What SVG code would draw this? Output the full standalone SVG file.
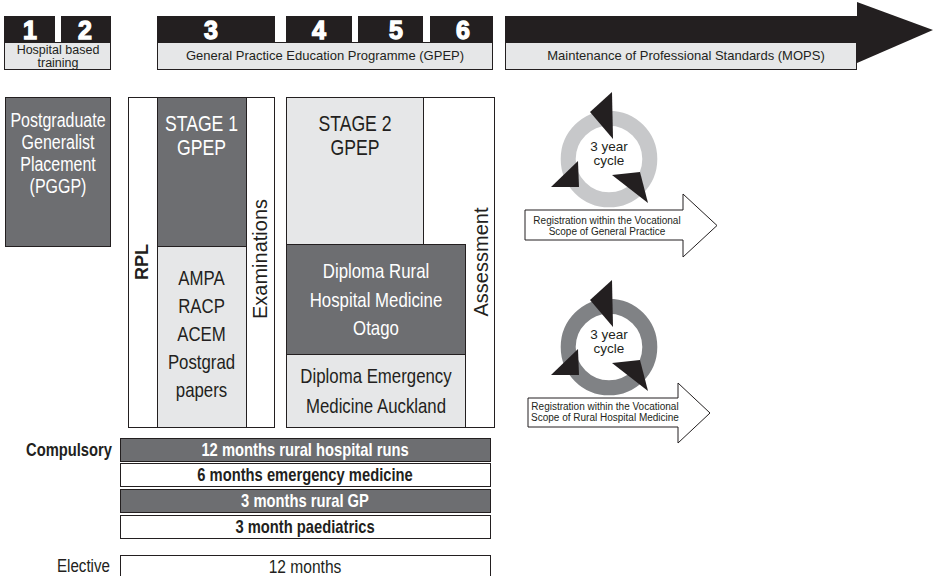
<svg xmlns="http://www.w3.org/2000/svg" width="937" height="576" viewBox="0 0 937 576">
<style>
.blk{fill:#231f20}
.lg{fill:#e6e7e8;stroke:#231f20;stroke-width:1}
.dk{fill:#6d6e71;stroke:#231f20;stroke-width:1}
.wh{fill:#fff;stroke:#231f20;stroke-width:1}
.num{font-family:'Liberation Sans',Arial,sans-serif;font-weight:bold;font-size:25px;fill:#fff;stroke:#fff;stroke-width:1.3;text-anchor:middle}
.hdr{font-family:'Liberation Sans',Arial,sans-serif;font-size:13px;fill:#231f20;text-anchor:middle}
.cn{font-family:'Liberation Sans',Arial,sans-serif;text-anchor:middle;font-size:20.5px}
.wt{fill:#fff}
.dt{fill:#231f20}
.rot{font-family:'Liberation Sans',Arial,sans-serif;font-size:20px;fill:#231f20;text-anchor:middle}
.row{font-size:18px;font-weight:bold}
.cyc{font-family:'Liberation Sans',Arial,sans-serif;font-size:13.5px;fill:#231f20;text-anchor:middle}
.reg{font-family:'Liberation Sans',Arial,sans-serif;font-size:10px;fill:#231f20;text-anchor:middle}
.tri{fill:#231f20}
.oarr{fill:#fff;stroke:#231f20;stroke-width:1}
</style>

<g id="hospital-training">
  <rect class="blk" x="4" y="16" width="51" height="27"/>
  <rect class="blk" x="61" y="16" width="50" height="27"/>
  <rect class="lg" x="4.5" y="42.5" width="106" height="27"/>
  <text class="num" x="30" y="39">1</text>
  <text class="num" x="85" y="39">2</text>
  <text class="hdr" style="font-size:12.5px" x="58" y="54">Hospital based</text>
  <text class="hdr" style="font-size:12.5px" x="58" y="67">training</text>
</g>

<g id="gpep-header">
  <rect class="blk" x="157" y="16" width="118" height="27"/>
  <rect class="blk" x="286" y="16" width="66" height="27"/>
  <rect class="blk" x="358" y="16" width="65" height="27"/>
  <rect class="blk" x="430" y="16" width="63" height="27"/>
  <rect class="lg" x="157.5" y="42.5" width="335" height="27"/>
  <text class="num" x="211" y="39">3</text>
  <text class="num" x="319" y="39">4</text>
  <text class="num" x="396" y="39">5</text>
  <text class="num" x="463" y="39">6</text>
  <text class="hdr" x="325" y="60">General Practice Education Programme (GPEP)</text>
</g>

<g id="mops-header">
  <rect class="blk" x="505" y="16" width="353" height="27"/>
  <polygon class="blk" points="857,2 933,30 857,63"/>
  <rect class="lg" x="505.5" y="42.5" width="351" height="27"/>
  <text class="hdr" x="686" y="60">Maintenance of Professional Standards (MOPS)</text>
</g>

<g id="pggp">
  <rect class="dk" x="5.5" y="97.5" width="105" height="149"/>
  <text class="cn wt" style="font-size:19.5px" transform="matrix(0.82 0 0 1 58 0)" x="0" y="127">Postgraduate</text>
  <text class="cn wt" style="font-size:19.5px" transform="matrix(0.82 0 0 1 58 0)" x="0" y="149">Generalist</text>
  <text class="cn wt" style="font-size:19.5px" transform="matrix(0.82 0 0 1 58 0)" x="0" y="171">Placement</text>
  <text class="cn wt" style="font-size:19.5px" transform="matrix(0.82 0 0 1 58 0)" x="0" y="193">(PGGP)</text>
</g>

<g id="stage1">
  <rect class="wh" x="128.5" y="97.5" width="146" height="330"/>
  <line x1="157.5" y1="97.5" x2="157.5" y2="427.5" stroke="#231f20"/>
  <line x1="246.5" y1="97.5" x2="246.5" y2="427.5" stroke="#231f20"/>
  <rect class="dk" x="157.5" y="97.5" width="89" height="149"/>
  <rect class="lg" x="157.5" y="246.5" width="89" height="181"/>
  <text class="rot" style="font-weight:bold;font-size:18px" transform="translate(148,262) rotate(-90)">RPL</text>
  <text class="rot" transform="translate(267,259) rotate(-90)">Examinations</text>
  <text class="cn wt" style="font-size:21.5px" transform="matrix(0.82 0 0 1 201.5 0)" x="0" y="131">STAGE 1</text>
  <text class="cn wt" style="font-size:21.5px" transform="matrix(0.82 0 0 1 201.5 0)" x="0" y="155">GPEP</text>
  <text class="cn dt" transform="matrix(0.82 0 0 1 201.5 0)" x="0" y="285">AMPA</text>
  <text class="cn dt" transform="matrix(0.82 0 0 1 201.5 0)" x="0" y="313">RACP</text>
  <text class="cn dt" transform="matrix(0.82 0 0 1 201.5 0)" x="0" y="341">ACEM</text>
  <text class="cn dt" transform="matrix(0.82 0 0 1 201.5 0)" x="0" y="369">Postgrad</text>
  <text class="cn dt" transform="matrix(0.82 0 0 1 201.5 0)" x="0" y="397">papers</text>
</g>

<g id="stage2">
  <rect class="wh" x="286.5" y="97.5" width="208" height="330"/>
  <rect class="lg" x="286.5" y="97.5" width="137" height="147"/>
  <rect class="dk" x="286.5" y="244.5" width="179" height="110"/>
  <rect class="lg" x="286.5" y="354.5" width="179" height="73"/>
  <text class="rot" transform="translate(488,262) rotate(-90)">Assessment</text>
  <text class="cn dt" style="font-size:21.5px" transform="matrix(0.82 0 0 1 355 0)" x="0" y="131">STAGE 2</text>
  <text class="cn dt" style="font-size:21.5px" transform="matrix(0.82 0 0 1 355 0)" x="0" y="155">GPEP</text>
  <text class="cn wt" transform="matrix(0.82 0 0 1 376 0)" x="0" y="278">Diploma Rural</text>
  <text class="cn wt" transform="matrix(0.82 0 0 1 376 0)" x="0" y="307">Hospital Medicine</text>
  <text class="cn wt" transform="matrix(0.82 0 0 1 376 0)" x="0" y="335">Otago</text>
  <text class="cn dt" transform="matrix(0.82 0 0 1 376 0)" x="0" y="383">Diploma Emergency</text>
  <text class="cn dt" transform="matrix(0.82 0 0 1 376 0)" x="0" y="413">Medicine Auckland</text>
</g>

<g id="cycle-gp">
  <circle cx="609" cy="159" r="40.8" fill="none" stroke="#c7c8ca" stroke-width="15"/>
  <text class="cyc" x="609" y="151">3 year</text>
  <text class="cyc" x="609" y="165">cycle</text>
</g>
<g id="cycle-rhm">
  <circle cx="609" cy="347" r="40.8" fill="none" stroke="#808285" stroke-width="15"/>
  <text class="cyc" x="609" y="339">3 year</text>
  <text class="cyc" x="609" y="353">cycle</text>
</g>

<g id="registration-gp">
  <polygon class="oarr" points="525,210 683,210 683,194 717,225.5 683,257 683,240 525,240"/>
  <text class="reg" x="607" y="224">Registration within the Vocational</text>
  <text class="reg" x="607" y="235">Scope of General Practice</text>
</g>
<g id="registration-rhm">
  <polygon class="oarr" points="528,398 678,398 678,383 710,413 678,443 678,427 528,427"/>
  <text class="reg" x="605" y="410">Registration within the Vocational</text>
  <text class="reg" x="605" y="421">Scope of Rural Hospital Medicine</text>
</g>

<g id="connectors">
  <polygon class="tri" points="612,92 590,112 613,139"/>
  <polygon class="tri" points="578,161 551,187 579,187"/>
  <polygon class="tri" points="612,175 640,172 648,203"/>
  <polygon class="tri" points="612,280 590,300 613,327"/>
  <polygon class="tri" points="578,349 551,375 579,375"/>
  <polygon class="tri" points="612,363 640,360 648,391"/>
</g>

<g id="compulsory">
  <text class="cn row dt" style="text-anchor:end" transform="matrix(0.82 0 0 1 112 0)" x="0" y="456">Compulsory</text>
  <rect class="dk" x="120.5" y="438.5" width="370" height="23"/>
  <text class="cn row wt" transform="matrix(0.82 0 0 1 305 0)" x="0" y="456">12 months rural hospital runs</text>
  <rect class="wh" x="120.5" y="463.5" width="370" height="23"/>
  <text class="cn row dt" transform="matrix(0.82 0 0 1 305 0)" x="0" y="481">6 months emergency medicine</text>
  <rect class="dk" x="120.5" y="489.5" width="370" height="23"/>
  <text class="cn row wt" transform="matrix(0.82 0 0 1 305 0)" x="0" y="507">3 months rural GP</text>
  <rect class="wh" x="120.5" y="515.5" width="370" height="23"/>
  <text class="cn row dt" transform="matrix(0.82 0 0 1 305 0)" x="0" y="533">3 month paediatrics</text>
</g>
<g id="elective">
  <text class="cn dt" style="text-anchor:end;font-size:18.5px" transform="matrix(0.82 0 0 1 110 0)" x="0" y="572">Elective</text>
  <rect class="wh" x="120.5" y="555.5" width="370" height="25"/>
  <text class="cn dt" style="font-size:19px" transform="matrix(0.82 0 0 1 305 0)" x="0" y="573">12 months</text>
</g>
</svg>
